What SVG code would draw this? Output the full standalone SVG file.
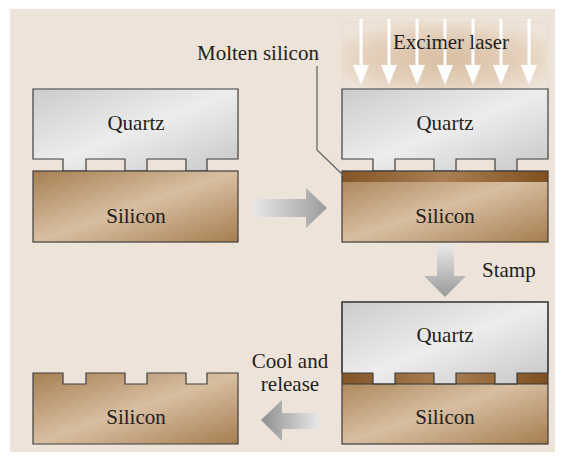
<svg xmlns="http://www.w3.org/2000/svg" width="564" height="462" viewBox="0 0 564 462">
  <defs>
    <linearGradient id="quartzFill" x1="0" y1="0" x2="1" y2="1">
      <stop offset="0" stop-color="#C9C9C9"/>
      <stop offset="0.5" stop-color="#ECECEC"/>
      <stop offset="1" stop-color="#C4C4C4"/>
    </linearGradient>
    <linearGradient id="siliconFill" x1="0" y1="0" x2="1" y2="1">
      <stop offset="0" stop-color="#A37A4B"/>
      <stop offset="0.5" stop-color="#D6BC9D"/>
      <stop offset="1" stop-color="#A27849"/>
    </linearGradient>
    <linearGradient id="moltenFill" x1="0" y1="0" x2="1" y2="0">
      <stop offset="0" stop-color="#7E4E1E"/>
      <stop offset="0.5" stop-color="#A57A4D"/>
      <stop offset="1" stop-color="#7A4816"/>
    </linearGradient>
    <radialGradient id="laserFill" cx="0.5" cy="0.55" r="0.6">
      <stop offset="0" stop-color="#D9BFA2"/>
      <stop offset="0.6" stop-color="#E3CFBA"/>
      <stop offset="1" stop-color="#EEE3D8"/>
    </radialGradient>
    <linearGradient id="arrowRight" x1="0" y1="0" x2="1" y2="0">
      <stop offset="0" stop-color="#E8E8E8"/>
      <stop offset="1" stop-color="#9C9C9C"/>
    </linearGradient>
    <linearGradient id="arrowLeft" x1="0" y1="0" x2="1" y2="0">
      <stop offset="0" stop-color="#8E8E8E"/>
      <stop offset="1" stop-color="#E8E8E8"/>
    </linearGradient>
    <linearGradient id="arrowDown" x1="0" y1="0" x2="0" y2="1">
      <stop offset="0" stop-color="#E8E8E8"/>
      <stop offset="1" stop-color="#999999"/>
    </linearGradient>
    <pattern id="hatch" width="2" height="2" patternUnits="userSpaceOnUse" patternTransform="rotate(45)">
      <rect width="1" height="2" fill="#FFFFFF" opacity="0.08"/>
    </pattern>
    <g id="beam">
      <rect x="-1.5" y="19" width="3" height="47" fill="#FFFFFF"/>
      <polygon points="-8,65 8,65 0,85" fill="#FFFFFF"/>
    </g>
  </defs>
  <style>
    .lbl { font-family: "Liberation Serif", "Times New Roman", serif; font-size: 21px; fill: #231F20; }
    .mid { text-anchor: middle; }
    .edge { stroke: #3A3A3A; stroke-width: 1.2; stroke-linejoin: miter; }
    .quartz { fill: url(#quartzFill); }
    .silicon { fill: url(#siliconFill); }
    .molten { fill: url(#moltenFill); }
    .tex { fill: url(#hatch); }
    .leader { fill: none; stroke: #666666; stroke-width: 1.3; }
  </style>

  <!-- backdrop -->
  <rect x="10" y="9" width="545" height="443" fill="#EEE3D8"/>

  <!-- step 1: mould resting on the wafer -->
  <g id="step1">
    <path class="quartz edge" d="M33,89 H238 V159 H207 V171 H186 V159 H147 V171 H125 V159 H86 V171 H63 V159 H33 Z"/>
    <path class="tex" d="M33,89 H238 V159 H207 V171 H186 V159 H147 V171 H125 V159 H86 V171 H63 V159 H33 Z"/>
    <rect class="silicon edge" x="33" y="171" width="205" height="71"/>
    <rect class="tex" x="33" y="171" width="205" height="71"/>
    <text class="lbl mid" x="136" y="130">Quartz</text>
    <text class="lbl mid" x="136" y="223">Silicon</text>
  </g>

  <!-- laser pulse -->
  <g id="laser">
    <rect x="342" y="22" width="205" height="67" fill="url(#laserFill)" stroke="#E8DCCF" stroke-width="1"/>
    <use href="#beam" x="361"/>
    <use href="#beam" x="389"/>
    <use href="#beam" x="417"/>
    <use href="#beam" x="445"/>
    <use href="#beam" x="473"/>
    <use href="#beam" x="501"/>
    <use href="#beam" x="529"/>
    <text class="lbl mid" x="451" y="49">Excimer laser</text>
  </g>

  <!-- step 2: surface melted by the laser -->
  <g id="step2">
    <path class="quartz edge" d="M342,89 H548 V159 H517 V171 H495 V159 H456 V171 H434 V159 H395 V171 H373 V159 H342 Z"/>
    <path class="tex" d="M342,89 H548 V159 H517 V171 H495 V159 H456 V171 H434 V159 H395 V171 H373 V159 H342 Z"/>
    <rect class="silicon" x="342" y="171" width="206" height="71"/>
    <rect class="molten" x="342" y="171" width="206" height="11"/>
    <rect class="tex" x="342" y="171" width="206" height="71"/>
    <rect class="edge" x="342" y="171" width="206" height="71" fill="none"/>
    <text class="lbl mid" x="445" y="130">Quartz</text>
    <text class="lbl mid" x="445" y="223">Silicon</text>
  </g>

  <text id="molten-label" class="lbl" x="197" y="60">Molten silicon</text>

  <!-- step 3: mould pressed into the melt -->
  <g id="step3">
    <rect class="silicon" x="342" y="373" width="206" height="71"/>
    <rect class="molten" x="342" y="373" width="206" height="11"/>
    <rect class="tex" x="342" y="373" width="206" height="71"/>
    <path class="quartz edge" d="M342,302 H548 V373 H517 V384 H495 V373 H456 V384 H434 V373 H395 V384 H373 V373 H342 Z"/>
    <path class="tex" d="M342,302 H548 V373 H517 V384 H495 V373 H456 V384 H434 V373 H395 V384 H373 V373 H342 Z"/>
    <rect class="edge" x="342" y="302" width="206" height="142" fill="none"/>
    <line class="edge" x1="342" y1="384" x2="548" y2="384"/>
    <text class="lbl mid" x="445" y="342">Quartz</text>
    <text class="lbl mid" x="445" y="424">Silicon</text>
  </g>

  <!-- step 4: patterned wafer -->
  <g id="step4">
    <path class="silicon edge" d="M33,373 H63 V384 H86 V373 H125 V384 H147 V373 H186 V384 H207 V373 H238 V444 H33 Z"/>
    <path class="tex" d="M33,373 H63 V384 H86 V373 H125 V384 H147 V373 H186 V384 H207 V373 H238 V444 H33 Z"/>
    <text class="lbl mid" x="136" y="424">Silicon</text>
  </g>

  <!-- process flow -->
  <g id="connectors">
    <polyline class="leader" points="317,66 317,150 343,175"/>
    <polygon fill="url(#arrowRight)" points="253,199 306,199 306,188 327,208 306,228 306,217 253,217"/>
    <polygon fill="url(#arrowDown)" points="437,245 454,245 454,276 466,276 445,297 424,276 437,276"/>
    <polygon fill="url(#arrowLeft)" points="319,413 282,413 282,400 261,420 282,441 282,429 319,429"/>
    <text class="lbl" x="482" y="277">Stamp</text>
    <text class="lbl mid" x="290" y="368">Cool and</text>
    <text class="lbl mid" x="290" y="391">release</text>
  </g>
</svg>
